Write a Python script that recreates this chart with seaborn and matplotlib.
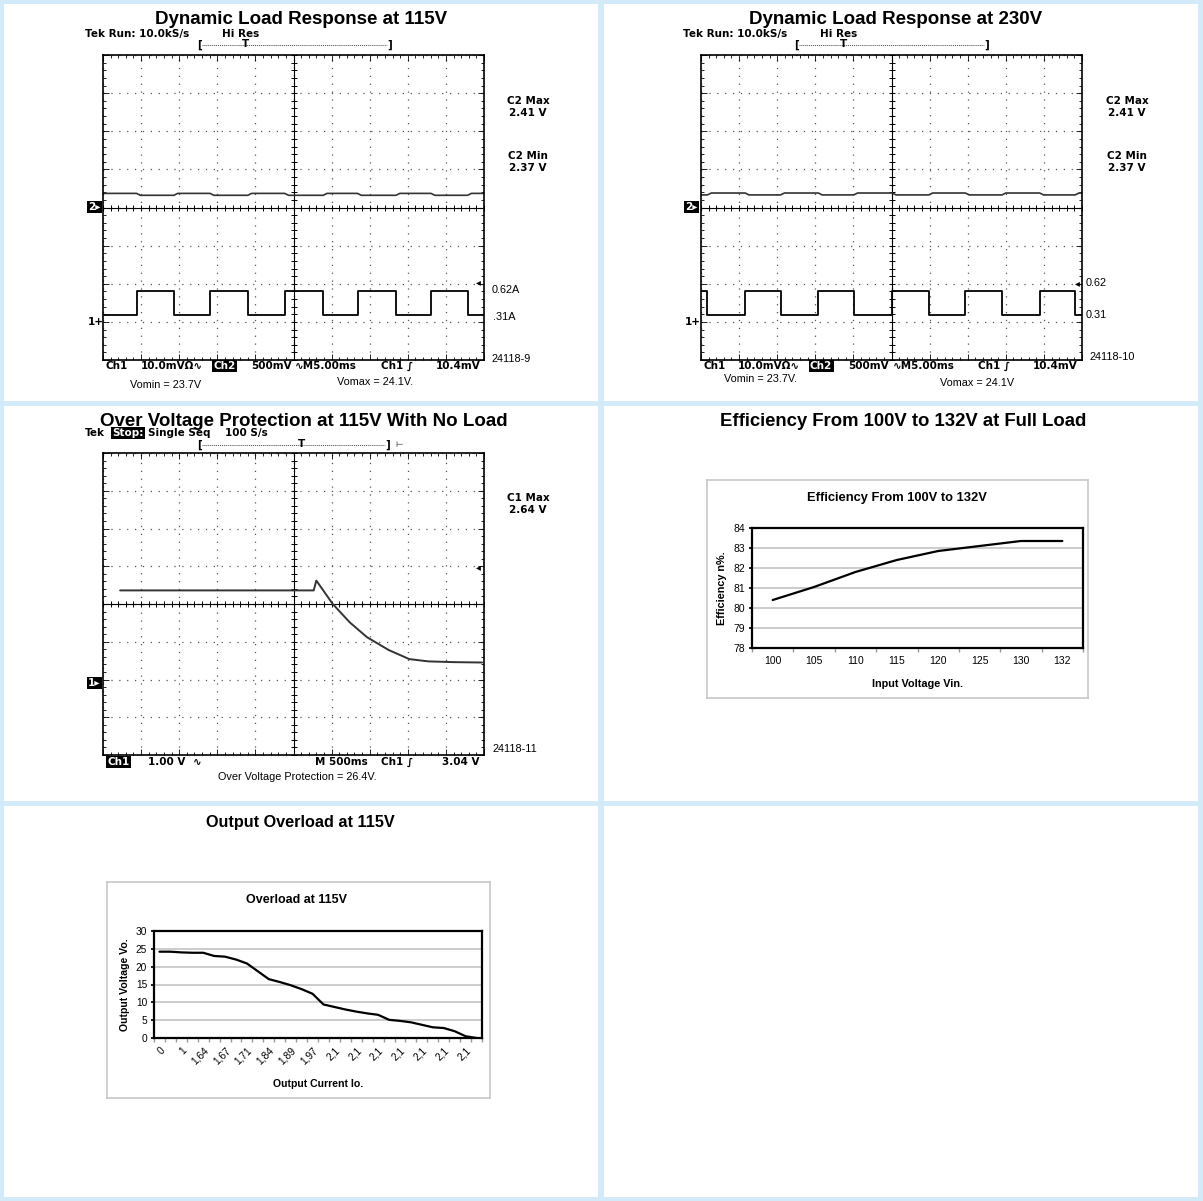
import numpy as np
import pandas as pd
import seaborn as sns
import matplotlib.pyplot as plt

# data
eff_vin = ['100', '105', '110', '115', '120', '125', '130', '132']
eff_pct = [80.4, 81.05, 81.8, 82.4, 82.85, 83.1, 83.35, 83.35]

ovl_io = [0, 0.5, 1, 1.6, 1.64, 1.65, 1.67, 1.69, 1.71, 1.78, 1.84, 1.86, 1.89, 1.93, 1.97, 2.05,
          2.1, 2.1, 2.1, 2.1, 2.1, 2.1, 2.1, 2.1, 2.1, 2.1, 2.1, 2.1, 2.1, 2.1]
ovl_vo = [24.2, 24.2, 24.0, 23.9, 23.9, 23.0, 22.8, 22.0, 20.9, 18.7, 16.5, 15.7, 14.8, 13.7, 12.4,
          9.4, 8.7, 8.0, 7.4, 6.9, 6.5, 5.1, 4.8, 4.4, 3.7, 3.0, 2.8, 1.9, 0.5, 0.0]

# scope traces, in screen divisions (x 0..10, y -4..4)
dl115_t = [0, 0.88, 1.86, 2.81, 3.80, 4.77, 5.78, 6.68, 7.69, 8.61, 9.57, 10.0]
dl115_ch1 = [-2.83, -2.18, -2.83, -2.18, -2.83, -2.18, -2.83, -2.18, -2.83, -2.18, -2.83, -2.83]
dl115_ch2_t = [0, 0.88, 0.98, 1.86, 1.96, 2.81, 2.91, 3.80, 3.90, 4.77, 4.87, 5.78, 5.88,
               6.68, 6.78, 7.69, 7.79, 8.61, 8.71, 9.57, 9.67, 10.0]
dl115_ch2 = [0.37, 0.37, 0.32, 0.32, 0.37, 0.37, 0.32, 0.32, 0.37, 0.37, 0.32, 0.32, 0.37,
             0.37, 0.32, 0.32, 0.37, 0.37, 0.32, 0.32, 0.37, 0.37]

dl230_t = [0, 0.17, 1.16, 2.09, 3.08, 4.01, 5.02, 5.98, 6.94, 7.90, 8.89, 9.82, 10.0]
dl230_ch1 = [-2.18, -2.83, -2.18, -2.83, -2.18, -2.83, -2.18, -2.83, -2.18, -2.83, -2.18, -2.83, -2.83]
dl230_ch2_t = [0, 0.17, 0.27, 1.16, 1.26, 2.09, 2.19, 3.08, 3.18, 4.01, 4.11, 5.02, 5.12,
               5.98, 6.08, 6.94, 7.04, 7.90, 8.00, 8.89, 8.99, 9.82, 9.92, 10.0]
dl230_ch2 = [0.33, 0.33, 0.38, 0.38, 0.33, 0.33, 0.38, 0.38, 0.33, 0.33, 0.38, 0.38, 0.33,
             0.33, 0.38, 0.38, 0.33, 0.33, 0.38, 0.38, 0.33, 0.33, 0.38, 0.38]

ovp_t = [0.45, 5.53, 5.60, 6.03, 6.48, 6.93, 7.5, 8.04, 8.54, 9.2, 9.95]
ovp_v = [0.36, 0.36, 0.62, 0.0, -0.49, -0.88, -1.22, -1.46, -1.52, -1.54, -1.55]

sns.set_theme(style='white', rc={'text.color': 'black', 'axes.labelcolor': 'black',
                                 'xtick.color': 'black', 'ytick.color': 'black'})
plt.rcParams['font.family'] = ['Liberation Sans', 'DejaVu Sans']

W, H = 1203, 1201
fig = plt.figure(figsize=(W / 100, H / 100), dpi=100, facecolor='#d3ebf8')


def box(x0, y0, x1, y1):
    return fig.add_axes([x0 / W, 1 - y1 / H, (x1 - x0) / W, (y1 - y0) / H])


def T(x, y, s, **kw):
    kw.setdefault('va', 'center')
    return fig.text(x / W, 1 - y / H, s, **kw)


SC = dict(family=['DejaVu Sans'], weight='bold', fontsize=7.5)
INV = dict(color='white', bbox=dict(boxstyle='square,pad=0.12', fc='black', ec='none'))

# white panels
for (x0, y0, x1, y1) in [(4, 4, 598, 401), (604, 4, 1198, 401), (4, 406, 598, 801),
                         (604, 406, 1198, 801), (4, 806, 598, 1197), (604, 806, 1198, 1197)]:
    p = box(x0, y0, x1, y1)
    p.set_facecolor('white')
    p.set_xticks([])
    p.set_yticks([])
    for s in p.spines.values():
        s.set_visible(False)


def scope(x0, y0, x1, y1):
    ax = box(x0, y0, x1, y1)
    ax.set_xlim(0, 10)
    ax.set_ylim(-4, 4)
    ax.set_xticks(range(11))
    ax.set_yticks(range(-4, 5))
    ax.set_xticks(np.arange(0, 10.01, 0.2), minor=True)
    ax.set_yticks(np.arange(-4, 4.01, 0.2), minor=True)
    ax.tick_params(which='both', direction='in', top=True, right=True, bottom=True, left=True,
                   labelbottom=False, labelleft=False, color='black', width=0.6)
    ax.tick_params(which='major', length=4)
    ax.tick_params(which='minor', length=2.5)
    ax.grid(True, which='major', color='#555555', lw=0.9, linestyle=(0, (1, 5.3)))
    for s in ax.spines.values():
        s.set_color('black')
        s.set_linewidth(1.2)
    ax.axhline(0, color='black', lw=0.8)
    ax.axvline(5, color='black', lw=0.8)
    hx = np.arange(0, 10.01, 0.2)
    vy = np.arange(-4, 4.01, 0.2)
    ax.plot(hx, np.zeros_like(hx), '|', ms=5, mew=0.7, color='black')
    ax.plot(np.full_like(vy, 5), vy, '_', ms=5, mew=0.7, color='black')
    return ax


def record_bar(x0, x1, xt, y):
    T(x0, y, '[', ha='center', **SC)
    T(x1, y, ']', ha='center', **SC)
    T(xt, y - 1, 'T', ha='center', **SC)
    ln = plt.Line2D([(x0 + 3) / W, (x1 - 3) / W], [1 - y / H, 1 - y / H],
                    transform=fig.transFigure, color='#444444', lw=0.7, linestyle=(0, (1, 1)))
    fig.add_artist(ln)


# ---- Dynamic load 115V
ax1 = scope(103, 55, 484, 360)
sns.lineplot(x=dl115_t, y=dl115_ch1, ax=ax1, color='black', lw=1.3, drawstyle='steps-post')
sns.lineplot(x=dl115_ch2_t, y=dl115_ch2, ax=ax1, color='#333333', lw=1.2)
T(301, 20, 'Dynamic Load Response at 115V', ha='center', fontsize=13.5, weight='bold')
T(85, 34, 'Tek Run: 10.0kS/s', **SC)
T(222, 34, 'Hi Res', **SC)
record_bar(199, 390, 245, 45)
T(528, 101, 'C2 Max', ha='center', **SC)
T(528, 113, '2.41 V', ha='center', **SC)
T(528, 156, 'C2 Min', ha='center', **SC)
T(528, 168, '2.37 V', ha='center', **SC)
T(476, 282, '◂', fontsize=7, family=['DejaVu Sans'])
T(492, 290, '0.62A', fontsize=7.8)
T(493, 317, '.31A', fontsize=7.8)
T(491, 359, '24118-9', fontsize=7.8)
T(88, 207, '2▸', **SC, **INV)
T(88, 322, '1+', **SC)
T(106, 366, 'Ch1', **SC)
T(141, 366, '10.0mVΩ∿', **SC)
T(213, 366, 'Ch2', **SC, **INV)
T(251, 366, '500mV', **SC)
T(295, 366, '∿M5.00ms', **SC)
T(381, 366, 'Ch1 ∫', **SC)
T(436, 366, '10.4mV', **SC)
T(166, 385, 'Vomin = 23.7V', ha='center', fontsize=7.8)
T(375, 382, 'Vomax = 24.1V.', ha='center', fontsize=7.8)

# ---- Dynamic load 230V
ax2 = scope(701, 55, 1082, 360)
sns.lineplot(x=dl230_t, y=dl230_ch1, ax=ax2, color='black', lw=1.3, drawstyle='steps-post')
sns.lineplot(x=dl230_ch2_t, y=dl230_ch2, ax=ax2, color='#333333', lw=1.2)
T(896, 20, 'Dynamic Load Response at 230V', ha='center', fontsize=13.5, weight='bold')
T(683, 34, 'Tek Run: 10.0kS/s', **SC)
T(820, 34, 'Hi Res', **SC)
record_bar(796, 987, 843, 45)
T(1127, 101, 'C2 Max', ha='center', **SC)
T(1127, 113, '2.41 V', ha='center', **SC)
T(1127, 156, 'C2 Min', ha='center', **SC)
T(1127, 168, '2.37 V', ha='center', **SC)
T(1075, 283, '◂', fontsize=7, family=['DejaVu Sans'])
T(1086, 283, '0.62', fontsize=7.8)
T(1086, 315, '0.31', fontsize=7.8)
T(1090, 357, '24118-10', fontsize=7.8)
T(685, 207, '2▸', **SC, **INV)
T(685, 322, '1+', **SC)
T(704, 366, 'Ch1', **SC)
T(738, 366, '10.0mVΩ∿', **SC)
T(810, 366, 'Ch2', **SC, **INV)
T(848, 366, '500mV', **SC)
T(893, 366, '∿M5.00ms', **SC)
T(978, 366, 'Ch1 ∫', **SC)
T(1033, 366, '10.4mV', **SC)
T(761, 379, 'Vomin = 23.7V.', ha='center', fontsize=7.8)
T(977, 383, 'Vomax = 24.1V', ha='center', fontsize=7.8)

# ---- Over voltage protection
ax3 = scope(103, 453, 484, 755)
sns.lineplot(x=ovp_t, y=ovp_v, ax=ax3, color='#333333', lw=1.4)
T(304, 421, 'Over Voltage Protection at 115V With No Load', ha='center', fontsize=13.5, weight='bold')
T(85, 433, 'Tek', **SC)
T(112, 433, 'Stop:', **SC, **INV)
T(148, 433, 'Single Seq', **SC)
T(225, 433, '100 S/s', **SC)
record_bar(199, 388, 302, 445)
T(395, 445, '⊢', fontsize=6, family=['DejaVu Sans'])
T(528, 498, 'C1 Max', ha='center', **SC)
T(528, 510, '2.64 V', ha='center', **SC)
T(476, 567, '◂', fontsize=7, family=['DejaVu Sans'])
T(88, 683, '1▸', **SC, **INV)
T(493, 749, '24118-11', fontsize=7.8)
T(107, 762, 'Ch1', **SC, **INV)
T(148, 762, '1.00 V', **SC)
T(193, 762, '∿', **SC)
T(315, 762, 'M 500ms', **SC)
T(381, 762, 'Ch1 ∫', **SC)
T(442, 762, '3.04 V', **SC)
T(297, 777, 'Over Voltage Protection = 26.4V.', ha='center', fontsize=7.8)

# ---- Efficiency chart
T(903, 421, 'Efficiency From 100V to 132V at Full Load', ha='center', fontsize=13.3, weight='bold')
frame = box(707, 480, 1088, 698)
frame.set_xticks([])
frame.set_yticks([])
for s in frame.spines.values():
    s.set_color('#c8c8c8')
    s.set_linewidth(1.2)
ax4 = box(752, 528, 1083, 648)
eff = pd.DataFrame({'pos': range(len(eff_vin)), 'eff': eff_pct})
sns.lineplot(data=eff, x='pos', y='eff', ax=ax4, color='black', lw=1.6)
ax4.set_xlim(-0.5, len(eff_vin) - 0.5)
ax4.set_ylim(78, 84)
ax4.set_yticks(range(78, 85))
ax4.set_xticks(range(len(eff_vin)))
ax4.set_xticklabels(eff_vin)
ax4.set_xticks(np.arange(-0.5, len(eff_vin)), minor=True)
ax4.tick_params(axis='x', which='major', length=0, labelsize=7.5, pad=6)
ax4.tick_params(axis='x', which='minor', bottom=True, length=3, color='#999999')
ax4.tick_params(axis='y', labelsize=7.5, left=True, length=2, pad=3)
ax4.yaxis.grid(True, color='#c8c8c8', lw=1.3)
for s in ax4.spines.values():
    s.set_color('black')
    s.set_linewidth(1.6)
ax4.set_xlabel('Input Voltage Vin.', fontsize=7.8, weight='bold')
ax4.set_ylabel('Efficiency n%.', fontsize=7.8, weight='bold')
ax4.xaxis.set_label_coords(0.5, -0.26)
ax4.yaxis.set_label_coords(-0.076, 0.5)
T(897, 498, 'Efficiency From 100V to 132V', ha='center', fontsize=9.3, weight='bold')

# ---- Overload chart
T(300, 822, 'Output Overload at 115V', ha='center', fontsize=11.7, weight='bold')
frame = box(107, 882, 490, 1098)
frame.set_xticks([])
frame.set_yticks([])
for s in frame.spines.values():
    s.set_color('#c8c8c8')
    s.set_linewidth(1.2)
ax5 = box(154, 931, 482, 1038)
ovl = pd.DataFrame({'pos': range(len(ovl_io)), 'vo': ovl_vo})
sns.lineplot(data=ovl, x='pos', y='vo', ax=ax5, color='black', lw=1.6)
ax5.set_xlim(-0.5, len(ovl_io) - 0.5)
ax5.set_ylim(0, 30)
ax5.set_yticks(range(0, 31, 5))
lab_pos = list(range(0, len(ovl_io) - 1, 2))
ax5.set_xticks(lab_pos)
ax5.set_xticklabels([f'{ovl_io[i]:g}'.replace('.', ',') for i in lab_pos],
                    rotation=45, ha='right', rotation_mode='anchor')
ax5.set_xticks(np.arange(-0.5, len(ovl_io)), minor=True)
ax5.tick_params(axis='x', which='major', length=0, labelsize=7.3, pad=5)
ax5.tick_params(axis='x', which='minor', bottom=True, length=3, color='#999999')
ax5.tick_params(axis='y', labelsize=7.3, left=True, length=2, pad=3)
ax5.yaxis.grid(True, color='#c8c8c8', lw=1.3)
for s in ax5.spines.values():
    s.set_color('black')
    s.set_linewidth(1.6)
ax5.set_xlabel('Output Current Io.', fontsize=7.6, weight='bold')
ax5.set_ylabel('Output Voltage Vo.', fontsize=7.6, weight='bold')
ax5.xaxis.set_label_coords(0.5, -0.38)
ax5.yaxis.set_label_coords(-0.073, 0.5)
T(297, 900, 'Overload at 115V', ha='center', fontsize=9, weight='bold')

fig.savefig('out.png', dpi=100, facecolor=fig.get_facecolor())
